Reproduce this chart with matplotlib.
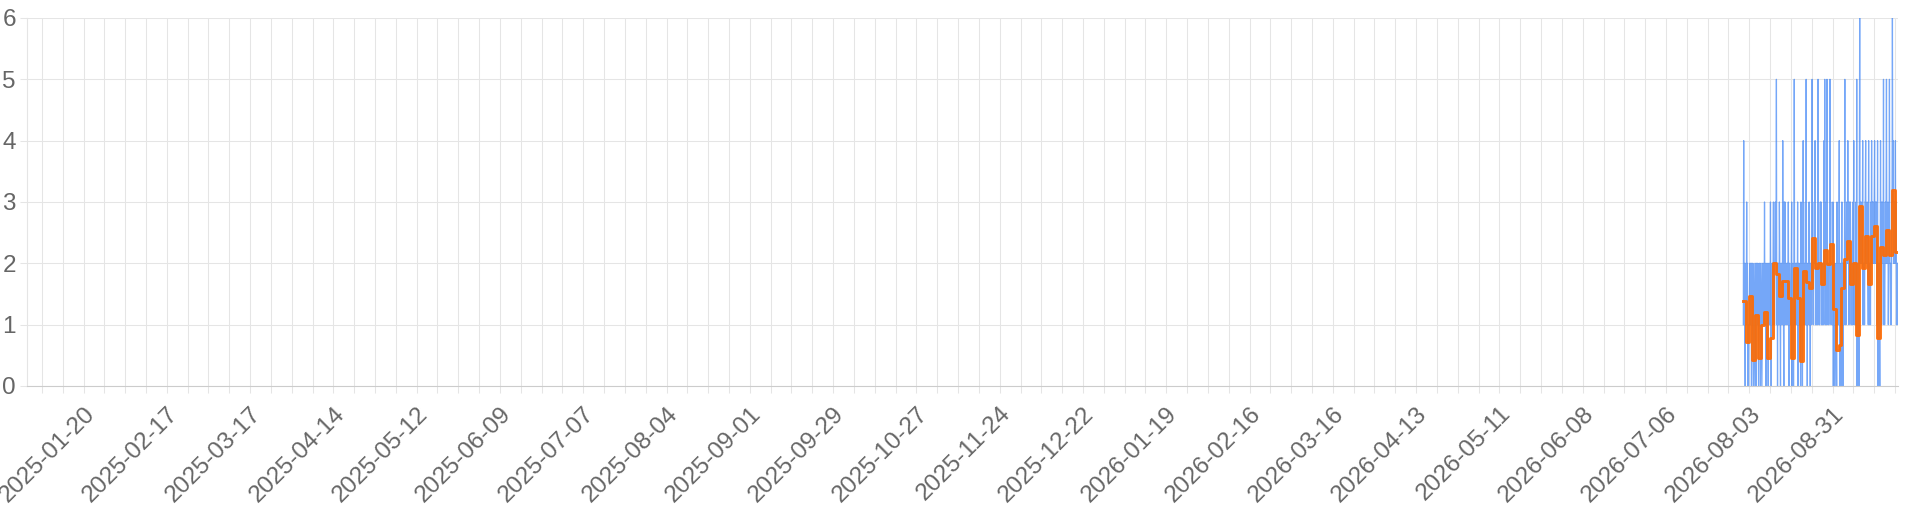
import matplotlib
matplotlib.use("Agg")
import matplotlib.pyplot as plt
import matplotlib.dates as mdates
from datetime import datetime, timedelta

# daily average (orange), one value per day starting 2026-08-01
daily_avg = [1.38, 0.71, 1.47, 0.42, 1.16, 0.45, 1.0, 1.21, 0.45, 0.79,
             2.0, 1.83, 1.47, 1.71, 1.71, 1.43, 0.45, 1.92, 1.43, 0.41,
             1.88, 1.69, 1.59, 2.42, 1.92, 2.0, 1.66, 2.21, 1.99, 2.32,
             1.26, 0.58, 0.67, 1.6, 2.07, 2.36, 1.66, 2.0, 0.83, 2.93,
             1.93, 2.44, 1.66, 2.44, 2.61, 0.79, 2.27, 2.13, 2.54, 2.13,
             3.2, 2.18]

# raw counts (blue), 3-hourly readings, one string per day
raw_counts = ["14121021", "13120101", "12121202", "12101210", "12021212",
              "10121201", "21012121", "13121021", "12102121", "13101212",
              "23121232", "25120212", "13210212", "21421031", "32121212",
              "13102211", "12301210", "15121212", "21302121", "12031210",
              "24121213", "15120212", "23120212", "35221223", "24121212",
              "15221123", "23121211", "24251213", "15221212", "25231222",
              "13021201", "12103121", "12401210", "23120212", "25121232",
              "24231322", "32121213", "24122213", "15021210", "36232322",
              "24121213", "34222322", "14121213", "24232322", "34232232",
              "14021210", "24231223", "25121232", "35222312", "25221213",
              "36342323", "24231212"]

tick_labels = ["2025-01-20", "2025-02-17", "2025-03-17", "2025-04-14", "2025-05-12",
               "2025-06-09", "2025-07-07", "2025-08-04", "2025-09-01", "2025-09-29",
               "2025-10-27", "2025-11-24", "2025-12-22", "2026-01-19", "2026-02-16",
               "2026-03-16", "2026-04-13", "2026-05-11", "2026-06-08", "2026-07-06",
               "2026-08-03", "2026-08-31"]

start = datetime(2026, 8, 1)
day_dates = [start + timedelta(days=i) for i in range(len(daily_avg))]

raw_times = []
raw_vals = []
for i, s in enumerate(raw_counts):
    for k, ch in enumerate(s):
        raw_times.append(start + timedelta(days=i, hours=3 * k))
        raw_vals.append(int(ch))

plt.rcParams['font.family'] = ['Liberation Sans', 'DejaVu Sans']

fig = plt.figure(figsize=(19.2, 5.12), dpi=100)
ax = fig.add_axes([27 / 1920, 1 - 386 / 512, 1871 / 1920, 368 / 512])

grid_c = '#e5e5e5'

ax.plot(raw_times, raw_vals, color='#3b82f6', lw=0.9, alpha=0.7, zorder=2)
ax.step(day_dates + [day_dates[-1] + timedelta(days=1)],
        daily_avg + [daily_avg[-1]], where='post',
        color='#ff6a00', lw=2.1, alpha=0.92, zorder=3)

ax.set_xlim(datetime(2025, 1, 1), datetime(2026, 9, 22))
ax.set_ylim(0, 6)
ax.set_yticks(range(0, 7))

ax.xaxis.set_major_locator(mdates.WeekdayLocator(byweekday=mdates.MO, interval=1))
labelled = set(tick_labels)
ax.xaxis.set_major_formatter(plt.FuncFormatter(
    lambda v, p: mdates.num2date(v).strftime('%Y-%m-%d')
    if mdates.num2date(v).strftime('%Y-%m-%d') in labelled else ''))

ax.grid(True, color=grid_c, lw=0.75, zorder=0)
ax.set_axisbelow(True)
for s in ['top', 'right']:
    ax.spines[s].set_visible(False)
ax.spines['left'].set_color(grid_c)
ax.spines['bottom'].set_color('#cccccc')

ax.tick_params(axis='both', colors=grid_c, length=5, width=0.75,
               labelcolor='#666666', labelsize=17.5)
ax.tick_params(axis='y', pad=3)
ax.tick_params(axis='x', pad=7)
plt.setp(ax.get_xticklabels(), rotation=45, ha='right', rotation_mode='anchor')

fig.savefig('out.png', dpi=100)
